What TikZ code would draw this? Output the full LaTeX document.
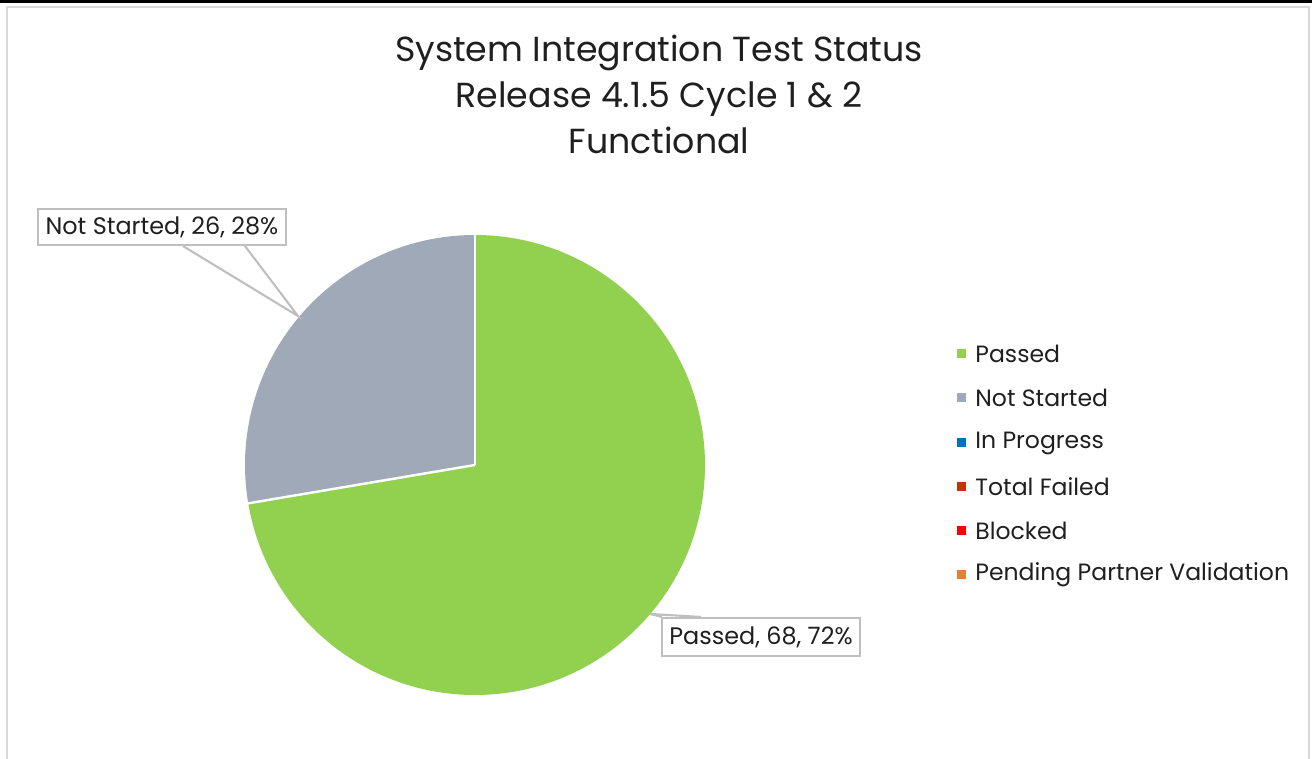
\documentclass[tikz,border=0pt]{standalone}
\usepackage{fontspec}
\setmainfont{Poppins}
\usetikzlibrary{positioning}
\definecolor{passgreen}{HTML}{92D050}
\definecolor{notgrey}{HTML}{A0A9B8}
\definecolor{progblue}{HTML}{0070C0}
\definecolor{failred}{HTML}{C63300}
\definecolor{blockred}{HTML}{FF0000}
\definecolor{pendorange}{HTML}{ED7D31}
\definecolor{framegrey}{HTML}{D9D9D9}
\definecolor{callgrey}{HTML}{BFBFBF}

\begin{document}
\begin{tikzpicture}
\tikzstyle{every node}+=[inner sep=0pt]
\tikzstyle{legkey}=[minimum size=0.09cm]
\tikzstyle{legtext}=[font=\fontsize{6.7}{8}\selectfont, text=black!88]
\tikzstyle{callout}=[draw=callgrey, fill=white, line width=0.6pt, font=\fontsize{6.8}{8}\selectfont, text=black!88]
\useasboundingbox (0,0) rectangle (13.12,7.59);
% outer frame
\fill [black] (0,7.56) rectangle (13.12,7.585);
\draw [framegrey, line width=0.6pt] (0.07,-0.1) -- (0.07,7.52) -- (13.09,7.52) -- (13.09,-0.1);
% title
\node [align=center, anchor=north, font=\fontsize{9.9}{13.2}\selectfont, text=black!88] (title) at (6.59,7.25) {System Integration Test Status\\Release 4.1.5 Cycle 1 \& 2\\Functional};
% pie
\coordinate (ctr) at (4.75,2.94);
\fill [passgreen] (ctr) -- ++(90:2.3) arc [start angle=90, end angle=-170.4, radius=2.3] -- cycle;
\fill [notgrey] (ctr) -- ++(90:2.3) arc [start angle=90, end angle=189.6, radius=2.3] -- cycle;
\draw [white, line width=0.7pt] (ctr) -- ++(90:2.31);
\draw [white, line width=0.7pt] (ctr) -- ++(189.6:2.31);
% data labels
\coordinate (tipns) at (2.98,4.43);
\coordinate (tippass) at (6.50,1.45);
\node [callout, minimum width=2.48cm, minimum height=0.36cm] (lblns) at (1.62,5.32) {Not Started, 26, 28\%};
\draw [callgrey, line width=0.6pt] ([xshift=0.21cm]lblns.south) -- (tipns) -- ([xshift=0.83cm]lblns.south);
\node [callout, minimum width=1.98cm, minimum height=0.38cm] (lblpass) at (7.61,1.22) {Passed, 68, 72\%};
\draw [callgrey, line width=0.6pt] ([xshift=-0.99cm]lblpass.north) -- (tippass) -- ([xshift=-0.6cm]lblpass.north);
% legend
\node [legkey, fill=passgreen] (kpass) at (9.615,4.05) {};
\node [legtext, right=0.08 of kpass] (tpass) {Passed};
\node [legkey, fill=notgrey] (knot) at (9.615,3.61) {};
\node [legtext, right=0.08 of knot] (tnot) {Not Started};
\node [legkey, fill=progblue] (kprog) at (9.615,3.16) {};
\node [legtext, right=0.08 of kprog] (tprog) {In Progress};
\node [legkey, fill=failred] (kfail) at (9.615,2.72) {};
\node [legtext, right=0.08 of kfail] (tfail) {Total Failed};
\node [legkey, fill=blockred] (kblock) at (9.615,2.28) {};
\node [legtext, right=0.08 of kblock] (tblock) {Blocked};
\node [legkey, fill=pendorange] (kpend) at (9.615,1.84) {};
\node [legtext, right=0.08 of kpend] (tpend) {Pending Partner Validation};
\end{tikzpicture}
\end{document}
